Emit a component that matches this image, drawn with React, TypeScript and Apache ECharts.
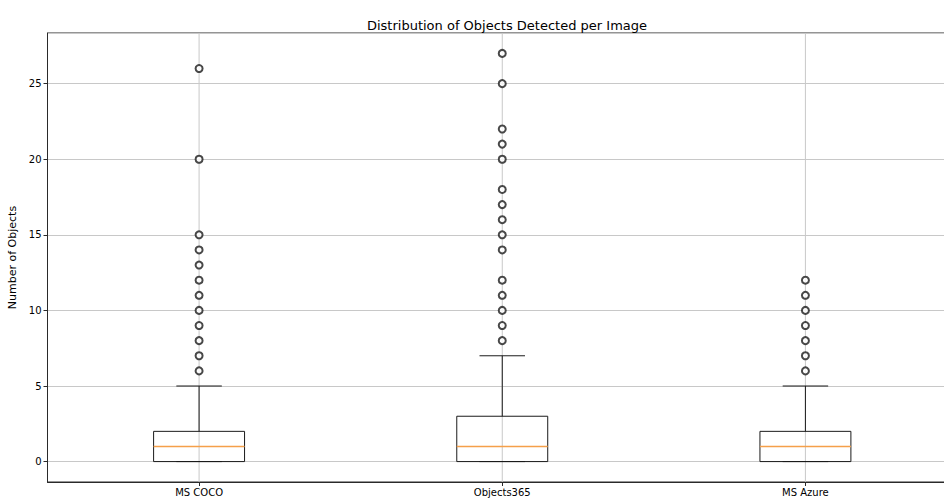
import React, { useEffect, useRef } from "react";
import * as echarts from "echarts";

const categories = ["MS COCO", "Objects365", "MS Azure"];
// [min whisker, Q1, median, Q3, max whisker]
const boxStats = [
  [0, 0, 1, 2, 5],
  [0, 0, 1, 3, 7],
  [0, 0, 1, 2, 5],
];
const outliersCoco = [6, 7, 8, 9, 10, 11, 12, 13, 14, 15, 20, 26];
const outliersObj365 = [8, 9, 10, 11, 12, 14, 15, 16, 17, 18, 20, 21, 22, 25, 27];
const outliersAzure = [6, 7, 8, 9, 10, 11, 12];
const yTicks = [0, 5, 10, 15, 20, 25];

const FONT = "DejaVu Sans";

export default function App() {
  const ref = useRef<HTMLDivElement>(null);
  useEffect(() => {
    if (!ref.current) return;
    const chart = echarts.init(ref.current, null, { renderer: "svg" });
    const outlierSets = [outliersCoco, outliersObj365, outliersAzure];
    const scatterData: number[][] = [];
    outlierSets.forEach((arr, i) => arr.forEach((v) => scatterData.push([i, v])));
    const boxData = boxStats.map((s, i) => [i, ...s]);

    chart.setOption({
      animation: false,
      title: {
        text: "Distribution of Objects Detected per Image",
        left: 502,
        textAlign: "center",
        top: 14,
        textStyle: { fontFamily: FONT, fontSize: 13, fontWeight: "normal", color: "#000" },
      },
      grid: {
        left: 47.5,
        right: 0,
        top: 33,
        bottom: 17,
        outerBoundsMode: "none",
        containLabel: false,
        show: true,
        borderColor: "#2a2a2a",
        borderWidth: 1,
        backgroundColor: "transparent",
      },
      xAxis: {
        type: "category",
        data: categories,
        boundaryGap: true,
        axisLine: { show: true, onZero: false, lineStyle: { color: "#2a2a2a", width: 1 } },
        axisTick: { show: true, alignWithLabel: true, length: 4, lineStyle: { color: "#2a2a2a" } },
        axisLabel: { fontFamily: FONT, fontSize: 10, color: "#000", margin: 5 },
        splitLine: { show: false },
      },
      yAxis: {
        type: "value",
        min: -1.35,
        max: 28.35,
        name: "Number of Objects",
        nameLocation: "middle",
        nameGap: 26,
        nameTextStyle: { fontFamily: FONT, fontSize: 11, color: "#000" },
        axisLine: { show: true, onZero: false, lineStyle: { color: "#2a2a2a", width: 1 } },
        axisTick: { show: true, length: 4, lineStyle: { color: "#2a2a2a" } },
        axisLabel: {
          fontFamily: FONT,
          fontSize: 10,
          color: "#000",
          margin: 6,
          showMinLabel: false,
          showMaxLabel: false,
          formatter: (v: number) => (yTicks.indexOf(v) >= 0 ? String(v) : ""),
        },
        splitLine: { show: true, lineStyle: { color: "#c8c8c8", width: 1 } },
      },
      series: [
        {
          type: "custom",
          data: boxData,
          encode: { x: 0, y: [1, 2, 3, 4, 5] },
          z: 2,
          renderItem: (params: any, api: any) => {
            const cat = api.value(0);
            const mn = api.value(1);
            const q1 = api.value(2);
            const med = api.value(3);
            const q3 = api.value(4);
            const mx = api.value(5);
            const band = api.size([1, 0])[0];
            const bw = band * 0.3;
            const cw = bw / 2;
            const pMin = api.coord([cat, mn]);
            const pQ1 = api.coord([cat, q1]);
            const pMed = api.coord([cat, med]);
            const pQ3 = api.coord([cat, q3]);
            const pMax = api.coord([cat, mx]);
            const cx = pMed[0];
            const cs = params.coordSys;
            const blk = { stroke: "#1a1a1a", lineWidth: 1, fill: "none" };
            return {
              type: "group",
              children: [
                {
                  type: "line",
                  shape: { x1: cx, y1: cs.y, x2: cx, y2: cs.y + cs.height },
                  style: { stroke: "#c8c8c8", lineWidth: 1 },
                },
                { type: "line", shape: { x1: cx, y1: pQ1[1], x2: cx, y2: pMin[1] }, style: blk },
                { type: "line", shape: { x1: cx, y1: pQ3[1], x2: cx, y2: pMax[1] }, style: blk },
                { type: "line", shape: { x1: cx - cw / 2, y1: pMin[1], x2: cx + cw / 2, y2: pMin[1] }, style: blk },
                { type: "line", shape: { x1: cx - cw / 2, y1: pMax[1], x2: cx + cw / 2, y2: pMax[1] }, style: blk },
                {
                  type: "rect",
                  shape: { x: cx - bw / 2, y: pQ3[1], width: bw, height: pQ1[1] - pQ3[1] },
                  style: blk,
                },
                {
                  type: "line",
                  shape: { x1: cx - bw / 2, y1: pMed[1], x2: cx + bw / 2, y2: pMed[1] },
                  style: { stroke: "#f5a04a", lineWidth: 1.5 },
                },
              ],
            };
          },
        },
        {
          type: "scatter",
          data: scatterData,
          symbol: "emptyCircle",
          symbolSize: 7,
          z: 3,
          itemStyle: { color: "#1a1a1a", borderColor: "#1a1a1a", borderWidth: 1.2 },
        },
      ],
    });
    return () => chart.dispose();
  }, []);
  return (
    <div style={{ position: "fixed", left: 0, top: 0, width: 944, height: 499, overflow: "hidden", background: "#fff" }}>
      <div ref={ref} style={{ width: 957, height: 499 }} />
    </div>
  );
}
